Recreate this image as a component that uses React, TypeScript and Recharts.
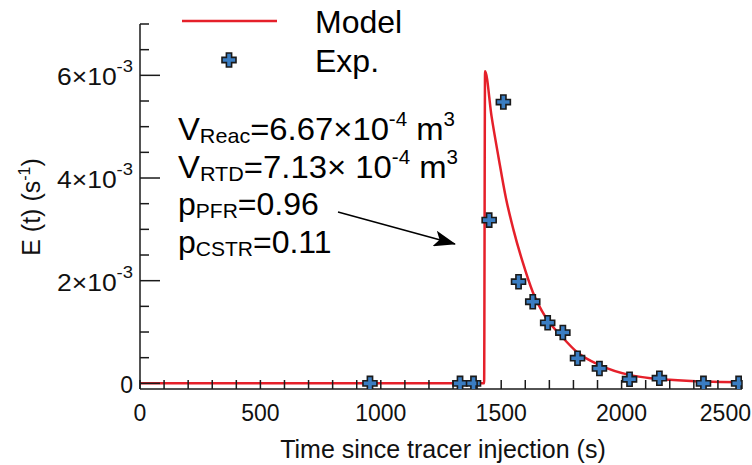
import { ComposedChart, Line, Scatter, XAxis, YAxis, Legend } from 'recharts'

// model curve (s, 1/s)
const modelTime = [0, 1429, 1433, 1460, 1489, 1520, 1551, 1590, 1631, 1683, 1752, 1817, 1911, 2036, 2120, 2200, 2350, 2500]
const modelE = [0, 0, 0.00608, 0.0052, 0.0044, 0.0036, 0.00299, 0.00235, 0.00178, 0.0013, 0.00091, 0.0006, 0.00035, 0.00016, 0.0001, 0.00007, 0.000035, 0.00002]

// experimental points
const expTime = [955, 1329, 1385, 1450, 1509, 1572, 1631, 1693, 1756, 1817, 1908, 2033, 2157, 2340, 2486]
const expE = [0, 0, 0, 0.00318, 0.00548, 0.00198, 0.00159, 0.00118, 0.00099, 0.00049, 0.00029, 0.00008, 0.0001, 0, 0]

const xTicks = [0, 100, 200, 300, 400, 500, 600, 700, 800, 900, 1000, 1100, 1200, 1300, 1400, 1500, 1600, 1700, 1800, 1900, 2000, 2100, 2200, 2300, 2400, 2500]
const yTicks = [0, 0.0005, 0.001, 0.0015, 0.002, 0.0025, 0.003, 0.0035, 0.004, 0.0045, 0.005, 0.0055, 0.006, 0.0065, 0.007]
const yMajor = [0, 0.002, 0.004, 0.006]
const yLabels = ['0', '2×10', '4×10', '6×10']

const FONT = '"Liberation Sans", Arial, sans-serif'
const RED = '#e5202a'
const BLUE = '#3a7dc2'
const INK = '#1a1a1a'

const modelData = modelTime.map((t, i) => ({ t, e: modelE[i] }))
const expData = expTime.map((t, i) => ({ t, e: expE[i] }))

function plusPath(cx: number, cy: number) {
    const a = 7, b = 2.6
    return `M${cx - b},${cy - a} h${2 * b} v${a - b} h${a - b} v${2 * b} h${-(a - b)} v${a - b} h${-2 * b} v${-(a - b)} h${-(a - b)} v${-2 * b} h${a - b} Z`
}

function PlusDot(props: any) {
    const { cx, cy } = props
    if (cx == null || cy == null) return null
    return <path d={plusPath(cx, cy)} fill={BLUE} stroke={INK} strokeWidth={1.6} />
}

function XTick(props: any) {
    const { x, y, payload } = props
    const v = payload.value
    // last label is pushed in so it stays on the page
    const last = v === 2500
    return (
        <g>
            <line x1={x} x2={x} y1={y} y2={y - 9} stroke={INK} strokeWidth={1.5} />
            {v % 500 === 0 && (
                <text x={last ? 751 : x} y={y + 32} textAnchor={last ? 'end' : 'middle'} fontSize={23}
                    fontFamily={FONT} fill="#111">{v}</text>
            )}
        </g>
    )
}

function YTick(props: any) {
    const { x, y, payload } = props
    const k = yMajor.indexOf(payload.value)
    const len = k >= 0 ? 20 : 9
    return (
        <g>
            <line x1={x} x2={x + len} y1={y} y2={y} stroke={INK} strokeWidth={1.5} />
            {k === 0 && (
                <text x={x - 7} y={y + 10} textAnchor="end" fontSize={23} fontFamily={FONT} fill="#111">0</text>
            )}
            {k > 0 && (
                <text x={x - 83} y={y + 10} fontSize={23} fontFamily={FONT} fill="#111"
                    textLength={76} lengthAdjust="spacingAndGlyphs">
                    {yLabels[k]}<tspan dy={-13} fontSize={16}>-3</tspan>
                </text>
            )}
        </g>
    )
}

function LegendBox() {
    return (
        <svg width={752} height={90} style={{ display: 'block' }}>
            <line x1={182} x2={277} y1={21} y2={21} stroke={RED} strokeWidth={2.5} />
            <text x={315} y={33} fontSize={32} fontFamily={FONT} fill="#000">Model</text>
            <path d={plusPath(229, 60)} fill={BLUE} stroke={INK} strokeWidth={1.6} />
            <text x={315} y={72} fontSize={32} fontFamily={FONT} fill="#000">Exp.</text>
        </svg>
    )
}

export default function App() {
    const sub = { fontSize: 21 }
    const sup = { fontSize: 20 }
    return (
        <div style={{ position: 'absolute', left: 0, top: 0, width: 752, height: 465, background: '#fff' }}>
            <ComposedChart width={752} height={465} margin={{ top: 24, right: 10, bottom: 0, left: 0 }}>
                <XAxis type="number" dataKey="t" domain={[0, 2500]} ticks={xTicks} interval={0}
                    tick={<XTick />} tickLine={false} tickSize={0} tickMargin={0} height={76}
                    axisLine={{ stroke: INK, strokeWidth: 1.5 }} allowDataOverflow />
                <YAxis type="number" dataKey="e" domain={[-0.00011, 0.007]} ticks={yTicks} interval={0}
                    tick={<YTick />} tickLine={false} tickSize={0} tickMargin={0} width={140}
                    axisLine={{ stroke: INK, strokeWidth: 1.5 }} allowDataOverflow />
                <Legend layout="horizontal" verticalAlign="middle" align="center" content={<LegendBox />}
                    wrapperStyle={{ left: 0, top: 0, width: 752, height: 90 }} />
                <Scatter name="Exp." data={expData} dataKey="e" shape={<PlusDot />} isAnimationActive={false} />
                <Line name="Model" data={modelData} dataKey="e" type="monotone" stroke={RED} strokeWidth={2.5}
                    dot={false} activeDot={false} isAnimationActive={false} />
            </ComposedChart>
            <svg width={752} height={465} style={{ position: 'absolute', left: 0, top: 0, pointerEvents: 'none' }}>
                <defs>
                    <marker id="head" viewBox="0 0 22 16" refX="21" refY="8" markerWidth="22" markerHeight="16"
                        markerUnits="userSpaceOnUse" orient="auto">
                        <path d="M0,0 L22,8 L0,16 L5,8 Z" fill="#000" />
                    </marker>
                </defs>
                <g fontFamily={FONT} fill="#000">
                    <text x={178} y={140} fontSize={32} textLength={277} lengthAdjust="spacingAndGlyphs">
                        V<tspan dy={3} {...sub}>Reac</tspan><tspan dy={-3}>=6.67×10</tspan>
                        <tspan dy={-14} {...sup}>-4</tspan><tspan dy={14}> m</tspan><tspan dy={-14} {...sup}>3</tspan>
                    </text>
                    <text x={178} y={178} fontSize={32} textLength={280} lengthAdjust="spacingAndGlyphs">
                        V<tspan dy={3} {...sub}>RTD</tspan><tspan dy={-3}>=7.13× 10</tspan>
                        <tspan dy={-14} {...sup}>-4</tspan><tspan dy={14}> m</tspan><tspan dy={-14} {...sup}>3</tspan>
                    </text>
                    <text x={178} y={215} fontSize={32}>
                        p<tspan dy={3} {...sub}>PFR</tspan><tspan dy={-3}>=0.96</tspan>
                    </text>
                    <text x={178} y={253} fontSize={32}>
                        p<tspan dy={3} {...sub}>CSTR</tspan><tspan dy={-3}>=0.11</tspan>
                    </text>
                </g>
                <line x1={338} y1={212} x2={455} y2={244} stroke="#000" strokeWidth={1.5} markerEnd="url(#head)" />
                <text x={443} y={458} textAnchor="middle" fontSize={25} fontFamily={FONT} fill="#111">
                    Time since tracer injection (s)
                </text>
                <text transform="translate(40,207) rotate(-90)" textAnchor="middle" fontSize={25} fontFamily={FONT} fill="#111">
                    E (t) (s<tspan dy={-10} fontSize={16}>-1</tspan><tspan dy={10}>)</tspan>
                </text>
            </svg>
        </div>
    )
}
